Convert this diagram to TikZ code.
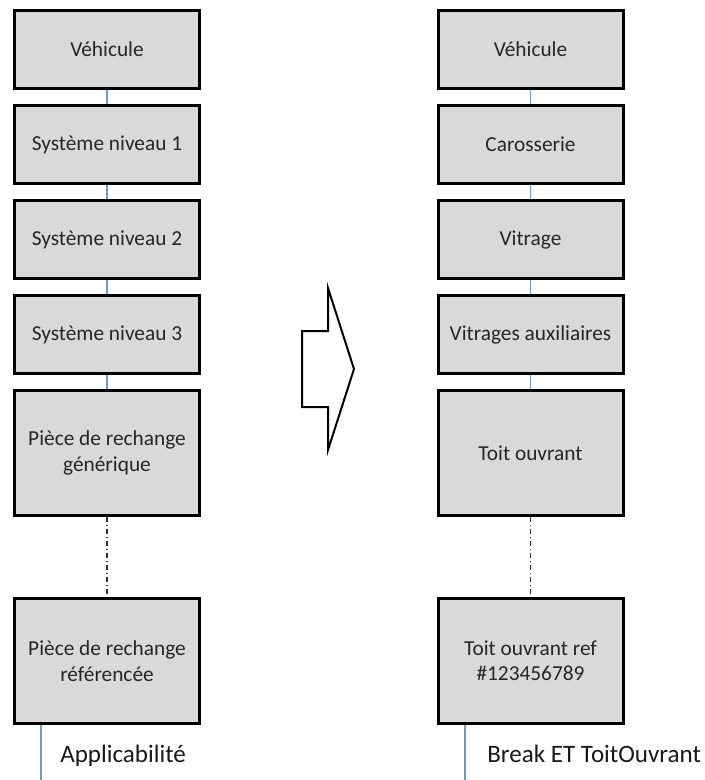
\documentclass[tikz,border=0pt]{standalone}
\usepackage{fontspec}
\setmainfont{Carlito}
\usetikzlibrary{positioning}
\definecolor{boxfill}{RGB}{217,217,217}
\definecolor{linkblue}{RGB}{112,152,212}
\definecolor{txt}{RGB}{38,38,38}

\begin{document}
\begin{tikzpicture}[x=0.75pt, y=-0.75pt, node distance=10.5pt,
  lvl/.style={draw=black, fill=boxfill, line width=2.25pt, text=txt, align=center, minimum width=138.75pt, minimum height=58.5pt, inner sep=2pt, font=\fontsize{16}{19}\selectfont},
  big/.style={lvl, minimum height=93.75pt},
  link/.style={draw=linkblue, line width=1.1pt},
  gap/.style={draw=black!80, line width=1pt, dash pattern=on 4pt off 2pt on 1pt off 2pt},
  tag/.style={anchor=base west, inner sep=0pt, text=black!90, font=\fontsize{18.8}{22}\selectfont}]
\useasboundingbox (0,0) rectangle (705,780);
% generic chain
\node[lvl] (g1) at (107,49.5) {Véhicule};
\node[lvl, below=of g1] (g2) {Système niveau 1};
\node[lvl, below=of g2] (g3) {Système niveau 2};
\node[lvl, below=of g3] (g4) {Système niveau 3};
\node[big, below=of g4] (g5) {Pièce de rechange\\générique};
\node[big, below=60pt of g5] (g6) {Pièce de rechange\\référencée};
\draw[link] (g1) -- (g2);
\draw[link] (g2) -- (g3);
\draw[link] (g3) -- (g4);
\draw[link] (g4) -- (g5);
\draw[gap] (g5) -- (g6);
\coordinate (gend) at (41,780);
\draw[link] (g6.south -| gend) -- (gend);
\node[tag] (gtag) at (60,762) {Applicabilité};
% example chain
\node[lvl] (e1) at (530.5,49.5) {Véhicule};
\node[lvl, below=of e1] (e2) {Carosserie};
\node[lvl, below=of e2] (e3) {Vitrage};
\node[lvl, below=of e3] (e4) {Vitrages auxiliaires};
\node[big, below=of e4] (e5) {Toit ouvrant};
\node[big, below=60pt of e5] (e6) {Toit ouvrant ref\\\#123456789};
\draw[link] (e1) -- (e2);
\draw[link] (e2) -- (e3);
\draw[link] (e3) -- (e4);
\draw[link] (e4) -- (e5);
\draw[gap] (e5) -- (e6);
\coordinate (eend) at (465,780);
\draw[link] (e6.south -| eend) -- (eend);
\node[tag] (etag) at (487,762) {Break ET ToitOuvrant};
% block arrow
\draw[line width=1.5pt, line join=miter] (302,331) -- (328,331) -- (328,288) -- (354,369) -- (328,450) -- (328,407) -- (302,407) -- cycle;
\end{tikzpicture}
\end{document}
